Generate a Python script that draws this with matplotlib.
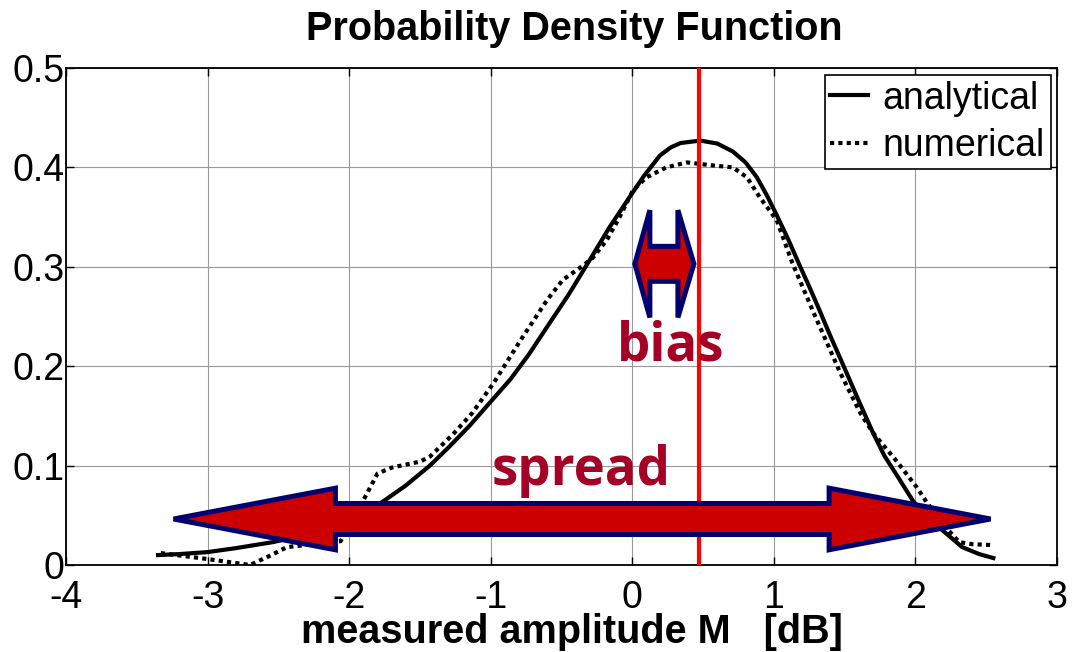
import matplotlib.pyplot as plt
from matplotlib.patches import Polygon

# analytical pdf
x_ana = [-3.35, -3.2, -3.0, -2.8, -2.54, -2.35, -2.2, -2.0, -1.88, -1.76, -1.6, -1.43, -1.3,
         -1.15, -0.99, -0.86, -0.73, -0.6, -0.45, -0.3, -0.16, -0.02, 0.08, 0.195, 0.27,
         0.34, 0.48, 0.6, 0.71, 0.8, 0.88, 0.95, 1.02, 1.1, 1.18, 1.25, 1.32, 1.4, 1.49,
         1.6, 1.7, 1.78, 1.87, 1.98, 2.08, 2.19, 2.33, 2.45, 2.55]
y_ana = [0.010, 0.011, 0.013, 0.017, 0.023, 0.029, 0.034, 0.045, 0.053, 0.064, 0.080, 0.100, 0.118,
         0.140, 0.166, 0.187, 0.212, 0.240, 0.272, 0.307, 0.340, 0.370, 0.391, 0.412, 0.420,
         0.4245, 0.427, 0.424, 0.416, 0.405, 0.390, 0.372, 0.352, 0.328, 0.302, 0.280, 0.257, 0.230, 0.201,
         0.165, 0.133, 0.110, 0.090, 0.065, 0.048, 0.035, 0.018, 0.011, 0.007]

# numerical pdf
x_num = [-3.33, -3.0, -2.85, -2.7, -2.55, -2.44, -2.06, -1.98, -1.9, -1.8, -1.7, -1.5, -1.43,
         -1.27, -1.13, -0.98, -0.79, -0.6, -0.49, -0.37, -0.28, -0.18, -0.09, 0.005, 0.1,
         0.24, 0.385, 0.57, 0.71, 0.81, 0.9, 1.02, 1.13, 1.28, 1.47, 1.61, 1.7, 1.87, 2.01,
         2.08, 2.2, 2.31, 2.4, 2.55]
y_num = [0.012, 0.006, 0.003, 0.000, 0.010, 0.018, 0.024, 0.045, 0.065, 0.092, 0.098, 0.104, 0.109,
         0.131, 0.153, 0.183, 0.226, 0.267, 0.287, 0.299, 0.309, 0.327, 0.350, 0.377, 0.390,
         0.400, 0.405, 0.402, 0.400, 0.390, 0.370, 0.347, 0.304, 0.254, 0.193, 0.153, 0.133, 0.104, 0.078,
         0.063, 0.040, 0.023, 0.021, 0.020]

mean_M = 0.47
xticks = [-4, -3, -2, -1, 0, 1, 2, 3]
yticks = [0, 0.1, 0.2, 0.3, 0.4, 0.5]
ytick_labels = ['0', '0.1', '0.2', '0.3', '0.4', '0.5']

ARROW_FILL = '#cc0000'
ARROW_EDGE = '#000070'
TEXT_RED = '#a50026'


def double_arrow(x0, x1, xb0, xb1, yc, head_h, shaft_h):
    pts = [(x0, yc), (xb0, yc + head_h), (xb0, yc + shaft_h), (xb1, yc + shaft_h),
           (xb1, yc + head_h), (x1, yc), (xb1, yc - head_h), (xb1, yc - shaft_h),
           (xb0, yc - shaft_h), (xb0, yc - head_h)]
    return Polygon(pts, closed=True, facecolor=ARROW_FILL, edgecolor=ARROW_EDGE,
                   linewidth=3.6, joinstyle='miter', zorder=5)


plt.rcParams['font.family'] = ['Liberation Sans', 'DejaVu Sans']

fig = plt.figure(figsize=(10.75, 6.52), dpi=100)
ax = fig.add_axes([0.0614, 0.1334, 0.9219, 0.7623])

ax.plot(x_ana, y_ana, color='black', lw=3, label='analytical', zorder=3,
        solid_joinstyle='round')
ax.plot(x_num, y_num, color='black', lw=3, ls=(0, (1, 1)), label='numerical', zorder=3)
ax.axvline(mean_M, color='#ff0000', lw=3, zorder=4)

# spread and bias arrows
ax.add_patch(double_arrow(-3.24, 2.53, -2.097, 1.39, 0.0463, 0.031, 0.0156))
ax.add_patch(double_arrow(0.018, 0.435, 0.124, 0.322, 0.303, 0.054, 0.0176))

ax.text(-0.363, 0.0805, 'spread', color=TEXT_RED, fontsize=38, fontweight='bold',
        family='Open Sans', ha='center', va='baseline', zorder=6)
ax.text(0.273, 0.206, 'bias', color=TEXT_RED, fontsize=38, fontweight='bold',
        family='Open Sans', ha='center', va='baseline', zorder=6)

ax.set_xlim(-4, 3)
ax.set_ylim(0, 0.5)
ax.set_xticks(xticks)
ax.set_yticks(yticks)
ax.set_xticklabels([str(t) for t in xticks])
ax.set_yticklabels(ytick_labels)
ax.tick_params(direction='in', length=6, width=1, top=True, right=True, labelsize=27)
ax.tick_params(axis='x', pad=11)
ax.tick_params(axis='y', pad=1)
ax.grid(True, color='#9a9a9a', lw=0.8)
ax.set_axisbelow(True)
for s in ax.spines.values():
    s.set_linewidth(1.3)

ax.set_title('Probability Density Function', fontsize=28.5, fontweight='bold',
             x=0.513, y=1.056, pad=0, va='baseline')
ax.set_xlabel('measured amplitude M   [dB]', fontsize=28.5, fontweight='bold', va='baseline')
ax.xaxis.set_label_coords(0.511, -0.157)

leg = ax.legend(loc='upper right', bbox_to_anchor=(0.9935, 0.986), fontsize=27,
                frameon=True, fancybox=False, edgecolor='black', framealpha=1,
                handlelength=1.0, handletextpad=0.4, labelspacing=0.3,
                borderpad=0.15, borderaxespad=0)
leg.get_frame().set_linewidth(1.2)

fig.savefig('out.png', dpi=100)
